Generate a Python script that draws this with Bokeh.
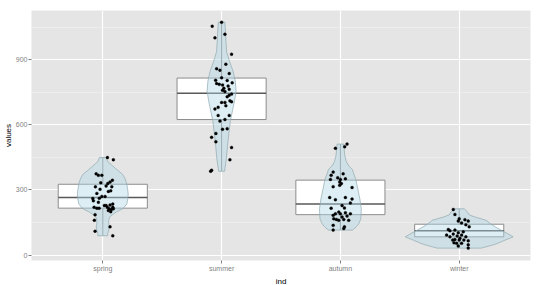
from bokeh.plotting import figure
from bokeh.models import Range1d, FixedTicker, ColumnDataSource, Title
from bokeh.embed import file_html
from bokeh.resources import INLINE

# Categories along the x axis
seasons = ["spring", "summer", "autumn", "winter"]

# Observations per season, with their horizontal jitter (category units)
spring_values = [449, 439, 374, 367, 367, 345, 336, 329, 333, 318, 314, 315, 303, 296,
                 293, 284, 270, 270, 261, 262, 250, 243, 235, 231, 228, 220, 220, 220,
                 216, 216, 228, 213, 210, 213, 205, 200, 186, 160, 130, 110, 89]
spring_jitter = [0.039, 0.089, -0.056, -0.037, -0.008, 0.081, 0.061, 0.042, -0.017, 0.028,
                 -0.062, 0.076, -0.023, 0.067, 0.047, -0.050, -0.008, 0.019, -0.084, -0.029,
                 -0.079, -0.037, 0.084, 0.061, 0.028, 0.039, 0.084, -0.073, -0.050, -0.031,
                 0.013, 0.053, 0.072, 0.089, 0.047, 0.067, -0.065, -0.071, 0.061, -0.065, 0.084]

summer_values = [1072, 1054, 1017, 1000, 925, 879, 858, 851, 836, 816, 805, 804, 793, 786,
                 783, 790, 778, 768, 763, 759, 753, 741, 736, 729, 703, 703, 710, 706,
                 688, 680, 673, 643, 643, 624, 617, 579, 582, 560, 542, 522, 495, 439, 391, 386]
summer_jitter = [0.000, -0.079, 0.028, -0.056, 0.084, 0.036, -0.042, -0.014, 0.064, 0.000,
                 -0.050, 0.047, 0.089, -0.020, 0.008, -0.042, 0.055, 0.019, 0.064, 0.008,
                 0.028, 0.084, 0.064, 0.047, 0.028, 0.000, 0.070, 0.084, 0.036, -0.029,
                 -0.056, 0.064, -0.029, 0.028, -0.014, 0.008, 0.047, -0.048, -0.084, -0.048,
                 0.084, 0.070, -0.084, -0.092]

autumn_values = [511, 499, 492, 382, 367, 374, 356, 348, 348, 351, 336, 329, 321, 311,
                 315, 265, 265, 258, 255, 240, 228, 217, 216, 198, 195, 190, 190, 183,
                 190, 180, 167, 175, 164, 164, 160, 160, 137, 122, 130, 115]
autumn_jitter = [0.056, 0.036, -0.042, -0.061, -0.078, 0.023, -0.023, 0.000, -0.084, 0.042,
                 -0.006, 0.008, -0.006, 0.098, -0.061, -0.090, 0.042, 0.098, -0.042, 0.084,
                 0.014, 0.034, -0.078, -0.014, 0.042, 0.000, -0.042, -0.061, 0.084, 0.056,
                 -0.056, 0.014, -0.034, 0.028, -0.014, 0.070, -0.061, 0.028, 0.034, -0.061]

winter_values = [210, 187, 167, 163, 157, 157, 148, 140, 130, 118, 112, 115, 103, 107,
                 97, 92, 84, 88, 92, 84, 72, 69, 69, 69, 66, 54, 54, 47, 42, 57, 32, 77]
winter_jitter = [-0.050, -0.036, 0.000, 0.048, 0.076, -0.008, 0.020, 0.056, 0.084, -0.092,
                 -0.078, -0.036, -0.008, 0.034, -0.050, -0.106, -0.078, -0.017, 0.020, 0.056,
                 -0.036, -0.055, 0.000, 0.039, 0.076, -0.022, 0.020, 0.076, -0.008, -0.044,
                 0.076, 0.006]

# Box summaries per season
box_q1 = [216, 624, 186, 84]
box_median = [265, 745, 235, 112]
box_q3 = [326, 815, 345, 142]
whisker_low = [89, 386, 115, 32]
whisker_high = [449, 1072, 511, 213]

# Violin outlines: value levels and half-widths (category units)
spring_levels = [449, 430, 410, 390, 371, 350, 326, 300, 281, 258, 235, 213, 200, 190,
                 176, 160, 145, 131, 115, 100, 89]
spring_width = [0.029, 0.042, 0.084, 0.126, 0.168, 0.189, 0.202, 0.210, 0.214, 0.210,
                0.202, 0.168, 0.118, 0.092, 0.059, 0.050, 0.050, 0.055, 0.050, 0.042, 0.042]
summer_levels = [1072, 1012, 937, 891, 846, 801, 756, 710, 665, 620, 560, 499, 439, 386]
summer_width = [0.028, 0.034, 0.042, 0.067, 0.097, 0.115, 0.122, 0.109, 0.092, 0.074,
                0.061, 0.049, 0.039, 0.025]
autumn_levels = [511, 484, 455, 430, 410, 394, 379, 348, 303, 258, 213, 167, 145, 130, 115]
autumn_width = [0.028, 0.032, 0.038, 0.050, 0.071, 0.101, 0.109, 0.130, 0.147, 0.164,
                0.176, 0.172, 0.155, 0.134, 0.101]
winter_levels = [213, 200, 185, 175, 167, 160, 145, 130, 115, 100, 84, 69, 55, 47, 32]
winter_width = [0.042, 0.067, 0.084, 0.134, 0.185, 0.227, 0.261, 0.303, 0.353, 0.403,
                0.454, 0.387, 0.328, 0.286, 0.185]

# Axis ticks
y_ticks = [0, 300, 600, 900]
y_minor = [150, 450, 750, 1050]

FONT = "Liberation Sans"
positions = list(range(1, len(seasons) + 1))

p = figure(width=540, height=285, output_backend="svg", toolbar_location=None,
           x_range=Range1d(0.4, 4.6), y_range=Range1d(-25, 1126),
           min_border_left=31, min_border_right=10, min_border_top=10,
           min_border_bottom=25)

p.background_fill_color = "#E5E5E5"
p.border_fill_color = "white"
p.outline_line_color = None

# grid
p.xgrid.ticker = FixedTicker(ticks=positions)
p.xgrid.grid_line_color = "white"
p.xgrid.grid_line_width = 1.2
p.ygrid.ticker = FixedTicker(ticks=y_ticks, minor_ticks=y_minor)
p.ygrid.grid_line_color = "white"
p.ygrid.grid_line_width = 1.2
p.ygrid.minor_grid_line_color = "#F2F2F2"
p.ygrid.minor_grid_line_width = 0.6

# axes; the axis titles are side titles so the margins stay narrow
for ax in (p.xaxis, p.yaxis):
    ax.axis_line_color = None
    ax.major_tick_line_color = "#7F7F7F"
    ax.major_tick_in = 0
    ax.major_tick_out = 3
    ax.minor_tick_line_color = None
    ax.major_label_text_font = FONT
    ax.major_label_text_font_size = "7px"
    ax.major_label_text_color = "#7F7F7F"
    ax.major_label_standoff = 1

p.xaxis.ticker = FixedTicker(ticks=positions)
p.xaxis.major_label_overrides = {pos: name for pos, name in zip(positions, seasons)}
p.yaxis.ticker = FixedTicker(ticks=y_ticks)

p.add_layout(Title(text="ind", align="center", text_font=FONT, text_font_size="8px",
                   text_font_style="normal", text_color="black", standoff=0, offset=0),
             "below")
p.add_layout(Title(text="values", align="center", text_font=FONT, text_font_size="8px",
                   text_font_style="normal", text_color="black", standoff=0, offset=0),
             "left")

# boxplots
BOX_HALF = 0.375
box_src = ColumnDataSource(dict(
    x=positions, q1=box_q1, med=box_median, q3=box_q3,
    lo=whisker_low, hi=whisker_high,
    left=[x - BOX_HALF for x in positions], right=[x + BOX_HALF for x in positions]))
p.segment(x0="x", y0="q3", x1="x", y1="hi", source=box_src, line_color="#8C8C8C", line_width=1)
p.segment(x0="x", y0="q1", x1="x", y1="lo", source=box_src, line_color="#8C8C8C", line_width=1)
p.quad(left="left", right="right", bottom="q1", top="q3", source=box_src,
       fill_color="white", line_color="#8C8C8C", line_width=1)
p.segment(x0="left", y0="med", x1="right", y1="med", source=box_src,
          line_color="#595959", line_width=1.6)

# violins
violins = [(spring_levels, spring_width), (summer_levels, summer_width),
           (autumn_levels, autumn_width), (winter_levels, winter_width)]
vx, vy = [], []
for pos, (levels, widths) in zip(positions, violins):
    right_side = [pos + w for w in widths]
    left_side = [pos - w for w in reversed(widths)]
    vx.append(right_side + left_side)
    vy.append(list(levels) + list(reversed(levels)))
p.patches(vx, vy, fill_color="#ADD8E6", fill_alpha=0.42,
          line_color="#8FA9B0", line_width=0.7)

# jittered points
groups = [(spring_values, spring_jitter), (summer_values, summer_jitter),
          (autumn_values, autumn_jitter), (winter_values, winter_jitter)]
px, py = [], []
for pos, (vals, jit) in zip(positions, groups):
    px.extend(pos + j for j in jit)
    py.extend(vals)
p.scatter(px, py, size=3.0, fill_color="black", line_color="black", line_width=0.3)

open("out.html", "w").write(file_html(p, INLINE))
